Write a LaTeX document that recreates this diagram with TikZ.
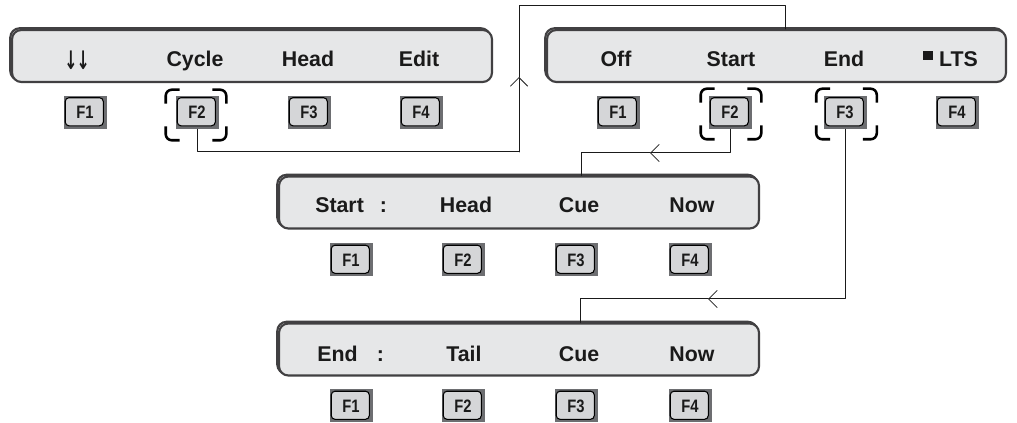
\documentclass[tikz,border=0pt]{standalone}
\usepackage{fontspec}
\setmainfont{Liberation Sans}
\newfontfamily\keyfont[FakeStretch=0.82]{Liberation Sans}
\newfontfamily\arrowfont{DejaVu Sans}
\usetikzlibrary{arrows.meta,positioning,calc}
\definecolor{panelfill}{HTML}{E6E7E8}
\definecolor{panelrim}{HTML}{414042}
\definecolor{keyshade}{HTML}{6D6E71}
\definecolor{keyface}{HTML}{D5D6D8}
\definecolor{ink}{HTML}{1A1A1A}
\tikzset{
    every picture/.style={line cap=round,line join=round},
    lcdpanel/.style={draw=panelrim,fill=panelfill,line width=1.6pt,rounded corners=7pt,
      minimum height=39pt,inner sep=0pt,
      preaction={draw=panelrim,line width=1.6pt,
        transform canvas={shift={(-1.3pt,1.3pt)}}}},
    keybox/.style={fill=keyshade,minimum width=32.25pt,minimum height=24.75pt,
      inner sep=0pt,text=ink,font=\keyfont\bfseries\fontsize{13.5}{15}\selectfont,
      path picture={\draw[fill=keyface,draw=black,line width=0.8pt,rounded corners=2.8pt]
        ([shift={(1.3pt,-1.3pt)}]path picture bounding box.north west) rectangle
        ([shift={(-2.4pt,2.4pt)}]path picture bounding box.south east);}},
    selbox/.style={minimum width=45pt,minimum height=37.5pt,inner sep=0pt},
    selcorner/.style={draw=black,line width=1.9pt,rounded corners=4.5pt,line cap=butt},
    panellabel/.style={font=\bfseries\fontsize{16}{19}\selectfont,text=ink,
      anchor=base,inner sep=0pt},
    link/.style={draw=ink,line width=0.75pt},
    flowarrow/.style={link,-{Straight Barb[length=6.5pt,width=13pt,line width=0.6pt]}}
}
% corner marks round a selected key
\newcommand\selmark[1]{%
  \draw[selcorner] ([yshift=-10.5pt]#1.north west) |- ([xshift=10.5pt]#1.north west);
  \draw[selcorner] ([yshift=-10.5pt]#1.north east) |- ([xshift=-10.5pt]#1.north east);
  \draw[selcorner] ([yshift=10.5pt]#1.south west) |- ([xshift=10.5pt]#1.south west);
  \draw[selcorner] ([yshift=10.5pt]#1.south east) |- ([xshift=-10.5pt]#1.south east);}

\begin{document}
\begin{tikzpicture}[x=0.75pt,y=-0.75pt]
  \useasboundingbox (0,0) rectangle (1017,423);
  % panels
  \node[lcdpanel,minimum width=360pt] (pA) at (252,56) {};
  \node[lcdpanel,minimum width=344.25pt] (pB) at (776.5,56) {};
  \node[lcdpanel,minimum width=360pt] (pC) at (519,202.5) {};
  \node[lcdpanel,minimum width=360pt] (pD) at (519,349.5) {};
  % panel texts
  \node[panellabel,anchor=center] (tA1) at (77,60)
    {\resizebox*{19pt}{14pt}{\arrowfont\bfseries ↓\kern-1pt↓}};
  \node[panellabel] (tA2) at (195,66.5) {Cycle};
  \node[panellabel] (tA3) at (308,66.5) {Head};
  \node[panellabel] (tA4) at (419,66.5) {Edit};
  \node[panellabel] (tB1) at (616,66.5) {Off};
  \node[panellabel] (tB2) at (731,66.5) {Start};
  \node[panellabel] (tB3) at (844,66.5) {End};
  \node[panellabel] (tB4) at (950.5,66.5) {\rule[4.5pt]{7.5pt}{6.8pt}\hspace{4.5pt}LTS};
  \node[panellabel,anchor=base west] (tC1) at (315,212.7) {Start\hspace{12pt}:};
  \node[panellabel] (tC2) at (466,212.7) {Head};
  \node[panellabel] (tC3) at (579,212.7) {Cue};
  \node[panellabel] (tC4) at (692,212.7) {Now};
  \node[panellabel,anchor=base west] (tD1) at (317,361.5) {End\hspace{14.5pt}:};
  \node[panellabel] (tD2) at (464,361.5) {Tail};
  \node[panellabel] (tD3) at (579,361.5) {Cue};
  \node[panellabel] (tD4) at (692,361.5) {Now};
  % keys
  \foreach \x [count=\i] in {85,197,309,421}
    \node[keybox] (kA\i) at (\x,112.5) {F\i};
  \foreach \x [count=\i] in {618,730,845,957}
    \node[keybox] (kB\i) at (\x,112.5) {F\i};
  \foreach \x [count=\i] in {351,463,576,690}
    \node[keybox] (kC\i) at (\x,260) {F\i};
  \foreach \x [count=\i] in {351,463,576,690}
    \node[keybox] (kD\i) at (\x,406) {F\i};
  % selected keys
  \node[selbox] (sA2) at (196,115) {};
  \node[selbox] (sB2) at (731,114) {};
  \node[selbox] (sB3) at (846.5,114) {};
  \selmark{sA2}
  \selmark{sB2}
  \selmark{sB3}
  % connectors
  \coordinate (jA) at (197,152);
  \coordinate (jA') at (519,152);
  \coordinate (aA) at (519,77);
  \coordinate (tA) at (785,6);
  \draw[link] (kA2.south) -- (jA) -- (jA');
  \draw[flowarrow] (jA') -- (aA);
  \draw[link] (aA) |- (tA) -- (tA |- pB.north);
  \coordinate (aB) at (650,153);
  \coordinate (jB) at (581,153);
  \draw[flowarrow] (kB2.south) |- (aB);
  \draw[link] (aB) -- (jB) -- (jB |- pC.north);
  \coordinate (aC) at (708,299);
  \coordinate (jC) at (580,299);
  \draw[flowarrow] (kB3.south) |- (aC);
  \draw[link] (aC) -- (jC) -- (jC |- pD.north);
\end{tikzpicture}
\end{document}
